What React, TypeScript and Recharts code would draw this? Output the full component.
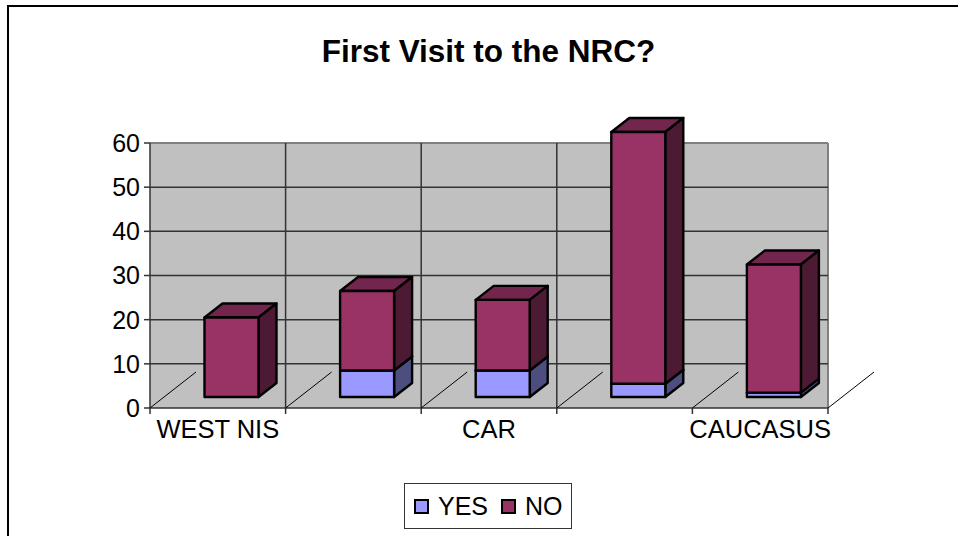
import React from "react";
import { BarChart, Bar, XAxis, YAxis, CartesianGrid, Legend } from "recharts";

const categories = ["WEST NIS", "", "CAR", "", "CAUCASUS"];
const yesValues = [0, 6, 6, 3, 1];
const noValues = [18, 18, 16, 57, 29];
const yTicks = [0, 10, 20, 30, 40, 50, 60];

const data = categories.map((region, i) => ({ region, yes: yesValues[i], no: noValues[i] }));

const WIDTH = 958;
const HEIGHT = 536;
const MARGIN = { top: 143, right: 130, bottom: 127, left: 0 };
const YAXIS_W = 150;
const BAND = (WIDTH - YAXIS_W - MARGIN.right) / categories.length;
const FONT = '"Liberation Sans", Arial, sans-serif';

// fake 3D: front face is pushed off the wall, side and top faces go back to it
const SHIFT_X = 13.5;
const SHIFT_Y = -11;
const DEPTH_X = 18;
const DEPTH_Y = -14;

function Box3D(props: any) {
  const { x, y, width, height, front, side, top } = props;
  if (!height || height <= 0) return null;
  const l = x + SHIFT_X;
  const r = l + width;
  const t = y + SHIFT_Y;
  const b = t + height;
  return (
    <g stroke="#000" strokeWidth={2.4} strokeLinejoin="round">
      <polygon points={`${l},${t} ${l + DEPTH_X},${t + DEPTH_Y} ${r + DEPTH_X},${t + DEPTH_Y} ${r},${t}`} fill={top} />
      <polygon points={`${r},${t} ${r + DEPTH_X},${t + DEPTH_Y} ${r + DEPTH_X},${b + DEPTH_Y} ${r},${b}`} fill={side} />
      <rect x={l} y={t} width={width} height={height} fill={front} />
    </g>
  );
}

// tick marks and floor lines sit on the band edges, labels in the band centre
function CategoryTick(props: any) {
  const { x, y, payload, index } = props;
  const edge = x - BAND / 2;
  const last = index === categories.length - 1;
  return (
    <g>
      <line x1={edge} y1={y} x2={edge} y2={y + 6} stroke="#333" strokeWidth={1.5} />
      <line x1={edge} y1={y} x2={edge + 46} y2={y - 36} stroke="#000" strokeWidth={1} />
      {last && (
        <>
          <line x1={edge + BAND} y1={y} x2={edge + BAND} y2={y + 6} stroke="#333" strokeWidth={1.5} />
          <line x1={edge + BAND} y1={y} x2={edge + BAND + 46} y2={y - 36} stroke="#000" strokeWidth={1} />
        </>
      )}
      <text x={x} y={y + 30} textAnchor="middle" fontSize={25.5} fontFamily={FONT} fill="#000">
        {payload.value}
      </text>
    </g>
  );
}

function LegendBox() {
  const swatch = (color: string) => (
    <span style={{ display: "inline-block", width: 11, height: 11, border: "2px solid #000", background: color }} />
  );
  return (
    <div
      style={{
        width: 168,
        height: 46,
        boxSizing: "border-box",
        border: "1px solid #333",
        background: "#fff",
        display: "flex",
        alignItems: "center",
        paddingLeft: 9,
        fontFamily: FONT,
        fontSize: 25,
        color: "#000",
      }}
    >
      {swatch("#9999FF")}
      <span style={{ marginLeft: 9, marginRight: 13 }}>YES</span>
      {swatch("#993366")}
      <span style={{ marginLeft: 9 }}>NO</span>
    </div>
  );
}

export default function App() {
  return (
    <div style={{ position: "absolute", left: 0, top: 0, width: WIDTH, height: HEIGHT, background: "#fff", overflow: "hidden" }}>
      <div style={{ position: "absolute", left: 7, top: 5, right: -4, bottom: -4, borderLeft: "2px solid #000", borderTop: "2px solid #000" }} />
      <div
        style={{
          position: "absolute",
          left: 0,
          width: 977,
          top: 33,
          textAlign: "center",
          fontFamily: FONT,
          fontWeight: "bold",
          fontSize: 31.5,
          lineHeight: "36px",
          color: "#000",
        }}
      >
        First Visit to the NRC?
      </div>
      <BarChart
        width={WIDTH}
        height={HEIGHT}
        data={data}
        margin={MARGIN}
        barSize={54}
        style={{ position: "absolute", left: 0, top: 0 }}
      >
        {/* wall: grey frame on top and right, darker grid lines inside */}
        <CartesianGrid
          fill="#C0C0C0"
          fillOpacity={1}
          stroke="#808080"
          strokeWidth={2}
          horizontalCoordinatesGenerator={({ offset }: any) => [offset.top]}
          verticalCoordinatesGenerator={({ offset }: any) => [offset.left + offset.width]}
        />
        <CartesianGrid
          stroke="#333"
          strokeWidth={1.5}
          horizontalCoordinatesGenerator={({ offset }: any) =>
            yTicks.slice(1, -1).map((_, i) => offset.top + (offset.height * (i + 1)) / (yTicks.length - 1))
          }
          verticalCoordinatesGenerator={({ offset }: any) =>
            categories.slice(1, -1).map((_, i) => offset.left + (offset.width * (i + 1)) / categories.length)
          }
        />
        <XAxis
          dataKey="region"
          height={1}
          interval={0}
          tickLine={false}
          tickSize={0}
          tickMargin={0}
          tick={<CategoryTick />}
          axisLine={{ stroke: "#333", strokeWidth: 1.5 }}
        />
        <YAxis
          domain={[0, 60]}
          ticks={yTicks}
          width={YAXIS_W}
          tickSize={6}
          tickMargin={4}
          interval={0}
          tick={{ fontSize: 25, fontFamily: FONT, fill: "#000" }}
          tickLine={{ stroke: "#333", strokeWidth: 1.5 }}
          axisLine={{ stroke: "#333", strokeWidth: 1.5 }}
        />
        <Legend
          layout="vertical"
          align="center"
          verticalAlign="middle"
          content={<LegendBox />}
          wrapperStyle={{ left: 404, top: 483, width: 168, height: 46, margin: 0 }}
        />
        <Bar
          dataKey="yes"
          name="YES"
          stackId="a"
          fill="#9999FF"
          isAnimationActive={false}
          shape={<Box3D front="#9999FF" side="#4D4D80" top="#7373BF" />}
        />
        <Bar
          dataKey="no"
          name="NO"
          stackId="a"
          fill="#993366"
          isAnimationActive={false}
          shape={<Box3D front="#993366" side="#4D1A33" top="#73264D" />}
        />
      </BarChart>
    </div>
  );
}
